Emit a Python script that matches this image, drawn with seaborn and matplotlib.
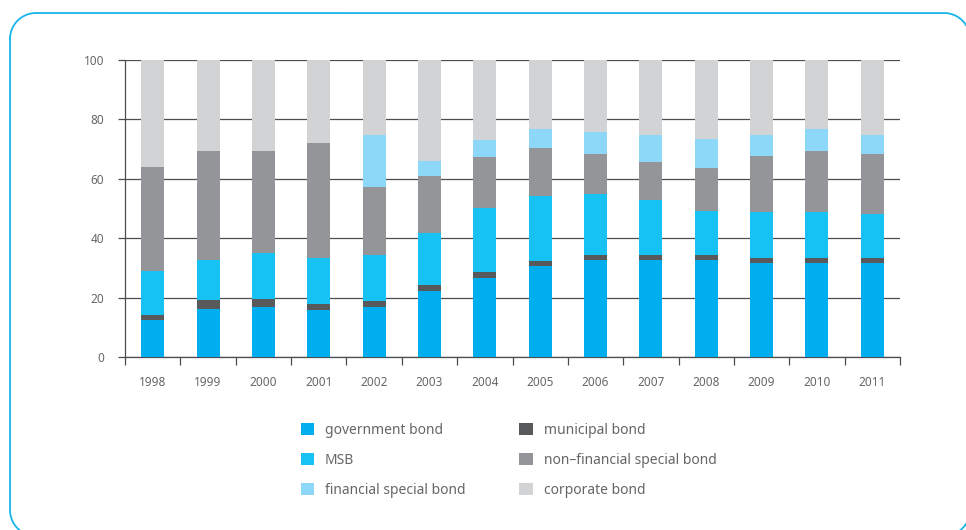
import numpy as np
import pandas as pd
import matplotlib
matplotlib.use("Agg")
import matplotlib.pyplot as plt
from matplotlib.patches import Patch
import seaborn as sns

# Bond market composition by year (%)
years = ["1998", "1999", "2000", "2001", "2002", "2003", "2004",
         "2005", "2006", "2007", "2008", "2009", "2010", "2011"]
government = [12.3, 16.0, 16.7, 15.7, 17.0, 22.1, 26.5, 30.5, 32.8, 32.8, 32.5, 31.8, 31.8, 31.8]
municipal = [2.0, 3.1, 2.7, 2.0, 1.7, 2.0, 2.0, 1.7, 1.7, 1.7, 1.7, 1.7, 1.7, 1.7]
msb = [14.5, 13.7, 15.5, 15.8, 15.5, 17.5, 21.8, 21.9, 20.5, 18.5, 14.8, 15.3, 15.3, 14.6]
non_financial = [35.3, 36.4, 34.6, 38.7, 23.2, 19.2, 16.9, 16.4, 13.2, 12.5, 14.8, 19.0, 20.7, 20.4]
financial = [0.0, 0.0, 0.0, 0.0, 17.5, 5.3, 6.0, 6.1, 7.7, 9.4, 9.7, 7.1, 7.4, 6.1]
corporate = [35.9, 30.8, 30.5, 27.8, 25.1, 33.9, 26.8, 23.4, 24.1, 25.1, 26.5, 25.1, 23.1, 25.4]

series_names = ["government bond", "municipal bond", "MSB",
                "non\u2013financial special bond", "financial special bond", "corporate bond"]
series_values = [government, municipal, msb, non_financial, financial, corporate]
series_colors = ["#00AEEF", "#58595B", "#16C1F3", "#939598", "#8DD8F8", "#D1D3D4"]

df = pd.DataFrame({name: vals for name, vals in zip(series_names, series_values)})
df["year"] = years
cumulative = df[series_names].cumsum(axis=1)

W, H = 966, 530
fig = plt.figure(figsize=(W / 100, H / 100), dpi=100)
fig.patch.set_facecolor("white")

# rounded panel frame, traced as a polyline in pixel units on a backdrop axes
bg = fig.add_axes([0, 0, 1, 1], zorder=-1)
bg.set_xlim(0, W)
bg.set_ylim(H, 0)
bg.axis("off")
left, top, right, bottom, r = 10, 13, 970, 536, 26
corners = [((left + r, top + r), np.pi, 1.5 * np.pi),
           ((right - r, top + r), 1.5 * np.pi, 2 * np.pi),
           ((right - r, bottom - r), 0.0, 0.5 * np.pi),
           ((left + r, bottom - r), 0.5 * np.pi, np.pi)]
fx, fy = [], []
for (cx, cy), a0, a1 in corners:
    t = np.linspace(a0, a1, 40)
    fx.extend(cx + r * np.cos(t))
    fy.extend(cy + r * np.sin(t))
fx.append(fx[0])
fy.append(fy[0])
bg.plot(fx, fy, color="#18B4EC", linewidth=1.3, solid_joinstyle="round", clip_on=False)

ax = fig.add_axes([125 / W, 1 - 357 / H, (900 - 125) / W, (357 - 60) / H])
ax.set_facecolor("none")

# stacked bars: draw cumulative totals from the top layer down
for name, color in reversed(list(zip(series_names, series_colors))):
    sns.barplot(x=df["year"], y=cumulative[name], color=color, saturation=1,
                width=0.415, errorbar=None, linewidth=0, ax=ax, zorder=3)

ax.set_xlim(-0.5, len(years) - 0.5)
ax.set_ylim(0, 100)
ax.set_yticks(np.arange(0, 101, 20))
ax.set_xlabel("")
ax.set_ylabel("")

ax.grid(axis="y", color="#4D4D4F", linewidth=0.9, zorder=1)
ax.grid(axis="x", visible=False)
ax.set_axisbelow(True)

for side in ["top", "right"]:
    ax.spines[side].set_visible(False)
for side in ["left", "bottom"]:
    ax.spines[side].set_color("#4D4D4F")
    ax.spines[side].set_linewidth(0.9)

text_color = "#666666"
font = "Noto Sans"
ax.tick_params(axis="y", length=5, width=0.9, color="#4D4D4F", pad=10,
               labelsize=8.5, labelcolor=text_color)
ax.tick_params(axis="x", which="major", length=0, pad=14,
               labelsize=8.5, labelcolor=text_color)
ax.set_xticks(np.arange(-0.5, len(years), 1.0), minor=True)
ax.tick_params(axis="x", which="minor", length=6, width=0.9, color="#4D4D4F", direction="out")
for lbl in ax.get_xticklabels() + ax.get_yticklabels():
    lbl.set_fontfamily(font)

# legend: two columns, filled column by column
order = [0, 2, 4, 1, 3, 5]
handles = [Patch(facecolor=series_colors[i], edgecolor="none") for i in order]
labels = [series_names[i] for i in order]
leg = fig.legend(handles, labels, ncol=2, loc="upper left",
                 bbox_to_anchor=(288 / W, 1 - 410 / H), frameon=False,
                 prop={"family": font, "size": 10}, labelcolor=text_color,
                 handlelength=0.95, handleheight=0.95, handletextpad=0.8,
                 labelspacing=1.08, columnspacing=3.9)

fig.savefig("out.png", dpi=100, facecolor="white")
